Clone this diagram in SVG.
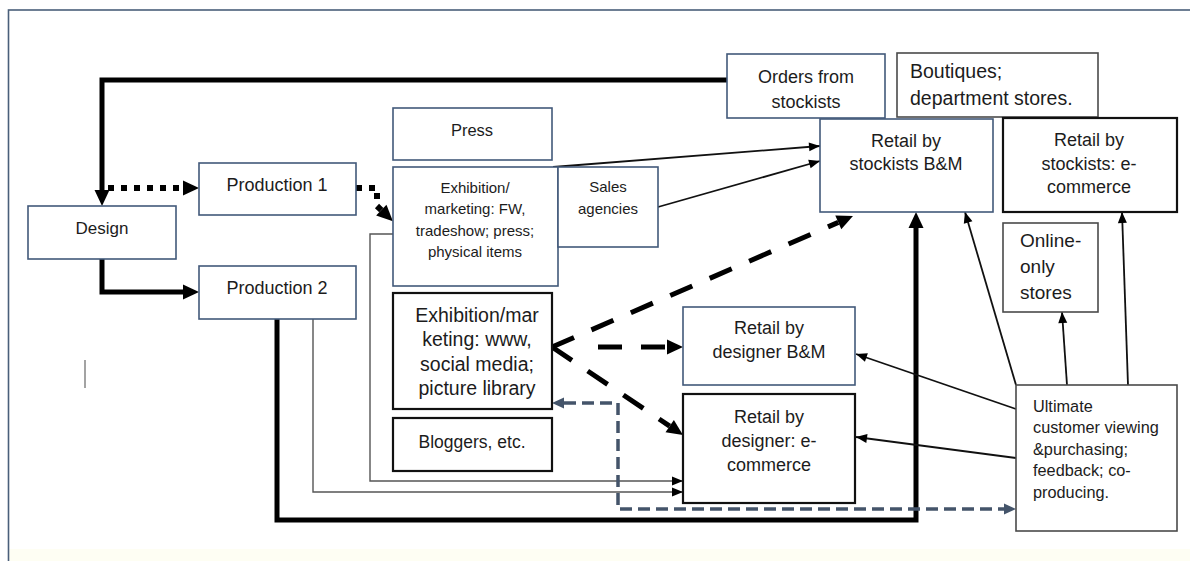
<svg xmlns="http://www.w3.org/2000/svg" width="1190" height="561" viewBox="0 0 1190 561">
<style>
.bx{fill:#fff;stroke:#42597a;stroke-width:1.6}
.bk{fill:#fff;stroke:#111;stroke-width:2.2}
.gy{fill:#fff;stroke:#4a4a4a;stroke-width:1.6}
text{font-family:"Liberation Sans",Arial,sans-serif;fill:#1c1c1c}
.c{text-anchor:middle}
.thick{fill:none;stroke:#000;stroke-width:5}
.dot{fill:none;stroke:#000;stroke-width:6;stroke-dasharray:6 7}
.dash{fill:none;stroke:#000;stroke-width:5;stroke-dasharray:24 19}
.thin{fill:none;stroke:#111;stroke-width:1.8}
.thing{fill:none;stroke:#555;stroke-width:1.4}
.blue{fill:none;stroke:#44546a;stroke-width:3.5;stroke-dasharray:12 6}
</style>
<defs>
<marker id="ab" markerUnits="userSpaceOnUse" markerWidth="16" markerHeight="16" refX="0" refY="7.5" orient="auto" overflow="visible"><path d="M0,0 L16,7.5 L0,15 z" fill="#000"/></marker>
<marker id="as" markerUnits="userSpaceOnUse" markerWidth="11" markerHeight="9" refX="11" refY="4.5" orient="auto" overflow="visible"><path d="M0,0 L11,4.5 L0,9 z" fill="#000"/></marker>
<marker id="ag" markerUnits="userSpaceOnUse" markerWidth="12" markerHeight="12" refX="0" refY="5.5" orient="auto-start-reverse" overflow="visible"><path d="M0,0 L12,5.5 L0,11 z" fill="#44546a"/></marker>
</defs>
<rect x="0" y="0" width="1190" height="561" fill="#fff"/>
<rect x="9" y="549" width="1181" height="12" fill="#fefef3"/>
<rect x="8.5" y="10" width="1200" height="600" fill="none" stroke="#4a5f7a" stroke-width="1.6"/>
<line x1="85" y1="360" x2="85" y2="388" stroke="#666" stroke-width="1.2"/>

<g id="connectors">
<path class="thick" d="M727 80 H102 V190" marker-end="url(#ab)"/>
<path class="dot" d="M108 188 H183" marker-end="url(#ab)"/>
<path class="dot" d="M356 188 H377 V206 L381.3 210.1" marker-end="url(#ab)"/>
<path class="thick" d="M102 259 V292 H183" marker-end="url(#ab)"/>
<path class="thick" d="M277 319 V520 H916 V228" marker-end="url(#ab)"/>
<path class="thin" d="M553 167 L820 146" marker-end="url(#as)"/>
<path class="thin" d="M658 207 L820 161" marker-end="url(#as)"/>
<path class="thing" d="M393 234 H370 V481 H683" marker-end="url(#as)"/>
<path class="thing" d="M313 319 V492 H683" marker-end="url(#as)"/>
<path class="dash" d="M552 347 L838.3 222.4" marker-end="url(#ab)"/>
<path class="dash" d="M598 347 H667" marker-end="url(#ab)"/>
<path class="dash" d="M552 347 L669.7 426.1" marker-end="url(#ab)"/>
<path class="blue" d="M564 403 H618 V509 H1004" marker-start="url(#ag)" marker-end="url(#ag)"/>
<path class="thin" d="M1016 409 L856 354" marker-end="url(#as)"/>
<path class="thin" d="M1016 458 L856 437" marker-end="url(#as)"/>
<path class="thin" d="M1016 385 L965 212" marker-end="url(#as)"/>
<path class="thin" d="M1067 385 L1062 312" marker-end="url(#as)"/>
<path class="thin" d="M1128 385 L1122 212" marker-end="url(#as)"/>
</g>

<g id="design"><rect class="bx" x="28" y="206" width="148" height="53"/><text class="c" x="102" y="234" font-size="17">Design</text></g>
<g id="production1"><rect class="bx" x="199" y="163" width="157" height="52"/><text class="c" x="277" y="191" font-size="18">Production 1</text></g>
<g id="production2"><rect class="bx" x="199" y="266" width="157" height="53"/><text class="c" x="277" y="294" font-size="18">Production 2</text></g>
<g id="press"><rect class="bx" x="393" y="108" width="159" height="52"/><text class="c" x="472" y="136" font-size="16.5">Press</text></g>
<g id="exhibition-fw"><rect class="bx" x="393" y="167" width="165" height="119"/>
<text class="c" font-size="15"><tspan x="475" y="192.5">Exhibition/</tspan><tspan x="475" y="214">marketing: FW,</tspan><tspan x="475" y="235.5">tradeshow; press;</tspan><tspan x="475" y="257">physical items</tspan></text></g>
<g id="sales-agencies"><rect class="bx" x="558" y="167" width="100" height="80"/>
<text class="c" font-size="15"><tspan x="608" y="192">Sales</tspan><tspan x="608" y="214">agencies</tspan></text></g>
<g id="orders"><rect class="bx" x="727" y="54" width="158" height="64"/>
<text class="c" font-size="18"><tspan x="806" y="83">Orders from</tspan><tspan x="806" y="108">stockists</tspan></text></g>
<g id="boutiques"><rect class="gy" x="897" y="53" width="201" height="64"/>
<text font-size="19.5"><tspan x="910" y="78">Boutiques;</tspan><tspan x="910" y="105">department stores.</tspan></text></g>
<g id="retail-stockists-bm"><rect class="bx" x="820" y="119" width="173" height="93"/>
<text class="c" font-size="18"><tspan x="906" y="147">Retail by</tspan><tspan x="906" y="170">stockists B&amp;M</tspan></text></g>
<g id="retail-stockists-ecom"><rect class="bk" x="1003" y="118" width="174" height="94"/>
<text class="c" font-size="18"><tspan x="1089" y="146">Retail by</tspan><tspan x="1089" y="169.5">stockists: e-</tspan><tspan x="1089" y="193">commerce</tspan></text></g>
<g id="online-only"><rect class="gy" x="1003" y="223" width="95" height="89"/>
<text font-size="19"><tspan x="1020" y="246.5">Online-</tspan><tspan x="1020" y="272.5">only</tspan><tspan x="1020" y="298.5">stores</tspan></text></g>
<g id="exhibition-www"><rect class="bk" x="393" y="293" width="159" height="116"/>
<text class="c" font-size="19.5"><tspan x="477" y="321.5">Exhibition/mar</tspan><tspan x="477" y="346">keting: www,</tspan><tspan x="477" y="370.5">social media;</tspan><tspan x="477" y="395">picture library</tspan></text></g>
<g id="bloggers"><rect class="bk" x="393" y="418" width="159" height="53"/><text class="c" x="472" y="448" font-size="17.5">Bloggers, etc.</text></g>
<g id="retail-designer-bm"><rect class="bx" x="683" y="307" width="172" height="78"/>
<text class="c" font-size="18"><tspan x="769" y="334">Retail by</tspan><tspan x="769" y="358">designer B&amp;M</tspan></text></g>
<g id="retail-designer-ecom"><rect class="bk" x="683" y="394" width="172" height="109"/>
<text class="c" font-size="18"><tspan x="769" y="423">Retail by</tspan><tspan x="769" y="447">designer: e-</tspan><tspan x="769" y="470.5">commerce</tspan></text></g>
<g id="ultimate-customer"><rect class="gy" x="1016" y="385" width="161" height="146"/>
<text font-size="16.3"><tspan x="1033" y="411.5">Ultimate</tspan><tspan x="1033" y="433">customer viewing</tspan><tspan x="1033" y="454.5">&amp;purchasing;</tspan><tspan x="1033" y="476">feedback; co-</tspan><tspan x="1033" y="497.5">producing.</tspan></text></g>
</svg>
